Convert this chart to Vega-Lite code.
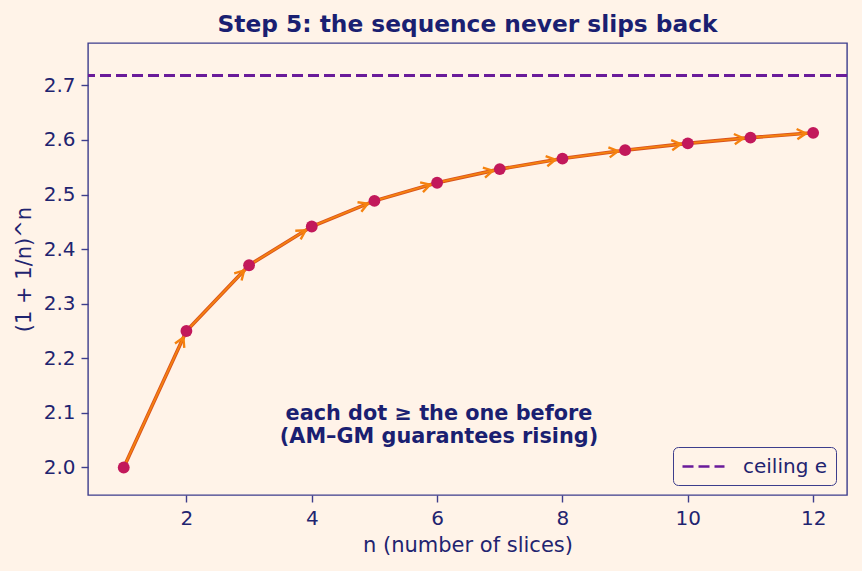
{
  "$schema": "https://vega.github.io/schema/vega-lite/v6.json",
  "width": 759,
  "height": 452,
  "autosize": {"type": "none"},
  "padding": {"left": 88, "top": 43, "right": 15, "bottom": 76},
  "background": "#fff3e8",
  "config": {
    "font": "DejaVu Sans",
    "view": {"stroke": "#3d3d8c", "strokeWidth": 1.4, "fill": "#fff3e8"},
    "axis": {
      "domain": false, "grid": false,
      "tickColor": "#3d3d8c", "tickSize": 7, "tickWidth": 1.4,
      "labelColor": "#1f2470", "labelFontSize": 20, "labelFont": "DejaVu Sans", "labelPadding": 6,
      "titleColor": "#1f2470", "titleFontSize": 21, "titleFont": "DejaVu Sans", "titleFontWeight": "normal"
    }
  },
  "title": {"text": "Step 5: the sequence never slips back", "fontSize": 23.3, "fontWeight": "bold", "color": "#1a1f71", "font": "DejaVu Sans", "anchor": "middle", "offset": 6},
  "data": {"values": [
    {"n": 1, "v": 2.0},
    {"n": 2, "v": 2.25},
    {"n": 3, "v": 2.3704},
    {"n": 4, "v": 2.4414},
    {"n": 5, "v": 2.4883},
    {"n": 6, "v": 2.5216},
    {"n": 7, "v": 2.5465},
    {"n": 8, "v": 2.5658},
    {"n": 9, "v": 2.5812},
    {"n": 10, "v": 2.5937},
    {"n": 11, "v": 2.6042},
    {"n": 12, "v": 2.6130}
  ]},
  "encoding": {
    "x": {"field": "n", "type": "quantitative", "scale": {"domain": [0.43, 12.54], "nice": false, "zero": false},
      "axis": {"values": [2, 4, 6, 8, 10, 12], "title": "n (number of slices)", "titlePadding": 6}},
    "y": {"field": "v", "type": "quantitative", "scale": {"domain": [1.9496, 2.7775], "nice": false, "zero": false},
      "axis": {"values": [2.0, 2.1, 2.2, 2.3, 2.4, 2.5, 2.6, 2.7], "format": ".1f", "title": "(1 + 1/n)^n", "titlePadding": 9}}
  },
  "layer": [
    {
      "mark": {"type": "rule", "strokeWidth": 2.6, "strokeDash": [11, 5]},
      "encoding": {
        "x": null,
        "y": {"datum": 2.71828, "type": "quantitative"},
        "color": {"datum": "ceiling e", "type": "nominal", "scale": {"range": ["#6a1b9a"]},
          "legend": {"title": null, "orient": "none", "legendX": 585, "legendY": 404, "symbolType": "M -2.1 0 L 2.1 0", "symbolStrokeWidth": 2.6, "symbolDash": [11, 5], "symbolSize": 400, "symbolOffset": 11,
            "labelFontSize": 20, "labelColor": "#1f2470", "labelFont": "DejaVu Sans", "labelOffset": 28, "strokeColor": "#3d3d8c", "fillColor": "#fff3e8", "cornerRadius": 5, "padding": 8}}
      }
    },
    {
      "mark": {"type": "line", "color": "#d9531e", "strokeWidth": 3.6}
    },
    {
      "mark": {"type": "line", "color": "#f5820f", "strokeWidth": 1.8}
    },
    {
      "transform": [
        {"window": [{"op": "lag", "field": "n", "as": "pn"}, {"op": "lag", "field": "v", "as": "pv"}], "sort": [{"field": "n"}]},
        {"filter": "datum.pn != null"},
        {"calculate": "atan2(-(datum.v - datum.pv) * 546, (datum.n - datum.pn) * 62.7) * 180 / PI", "as": "ang"}
      ],
      "mark": {"type": "point", "shape": "M -2.7 -0.85 L -1.2 0 L -2.7 0.85", "filled": false, "stroke": "#f5820f", "strokeWidth": 2.4, "size": 144, "strokeCap": "butt", "strokeJoin": "miter", "opacity": 1},
      "encoding": {"angle": {"field": "ang", "type": "quantitative", "scale": null}}
    },
    {
      "mark": {"type": "circle", "color": "#c2185b", "size": 140, "opacity": 1}
    },
    {
      "transform": [{"filter": "datum.n == 6"}],
      "mark": {"type": "text", "text": ["each dot ≥ the one before", "(AM–GM guarantees rising)"], "fontWeight": "bold", "fontSize": 20.8, "color": "#1a1f71", "align": "center", "baseline": "middle", "lineHeight": 23, "font": "DejaVu Sans"},
      "encoding": {"x": {"datum": 6.03}, "y": {"datum": 2.098}}
    }
  ]
}
